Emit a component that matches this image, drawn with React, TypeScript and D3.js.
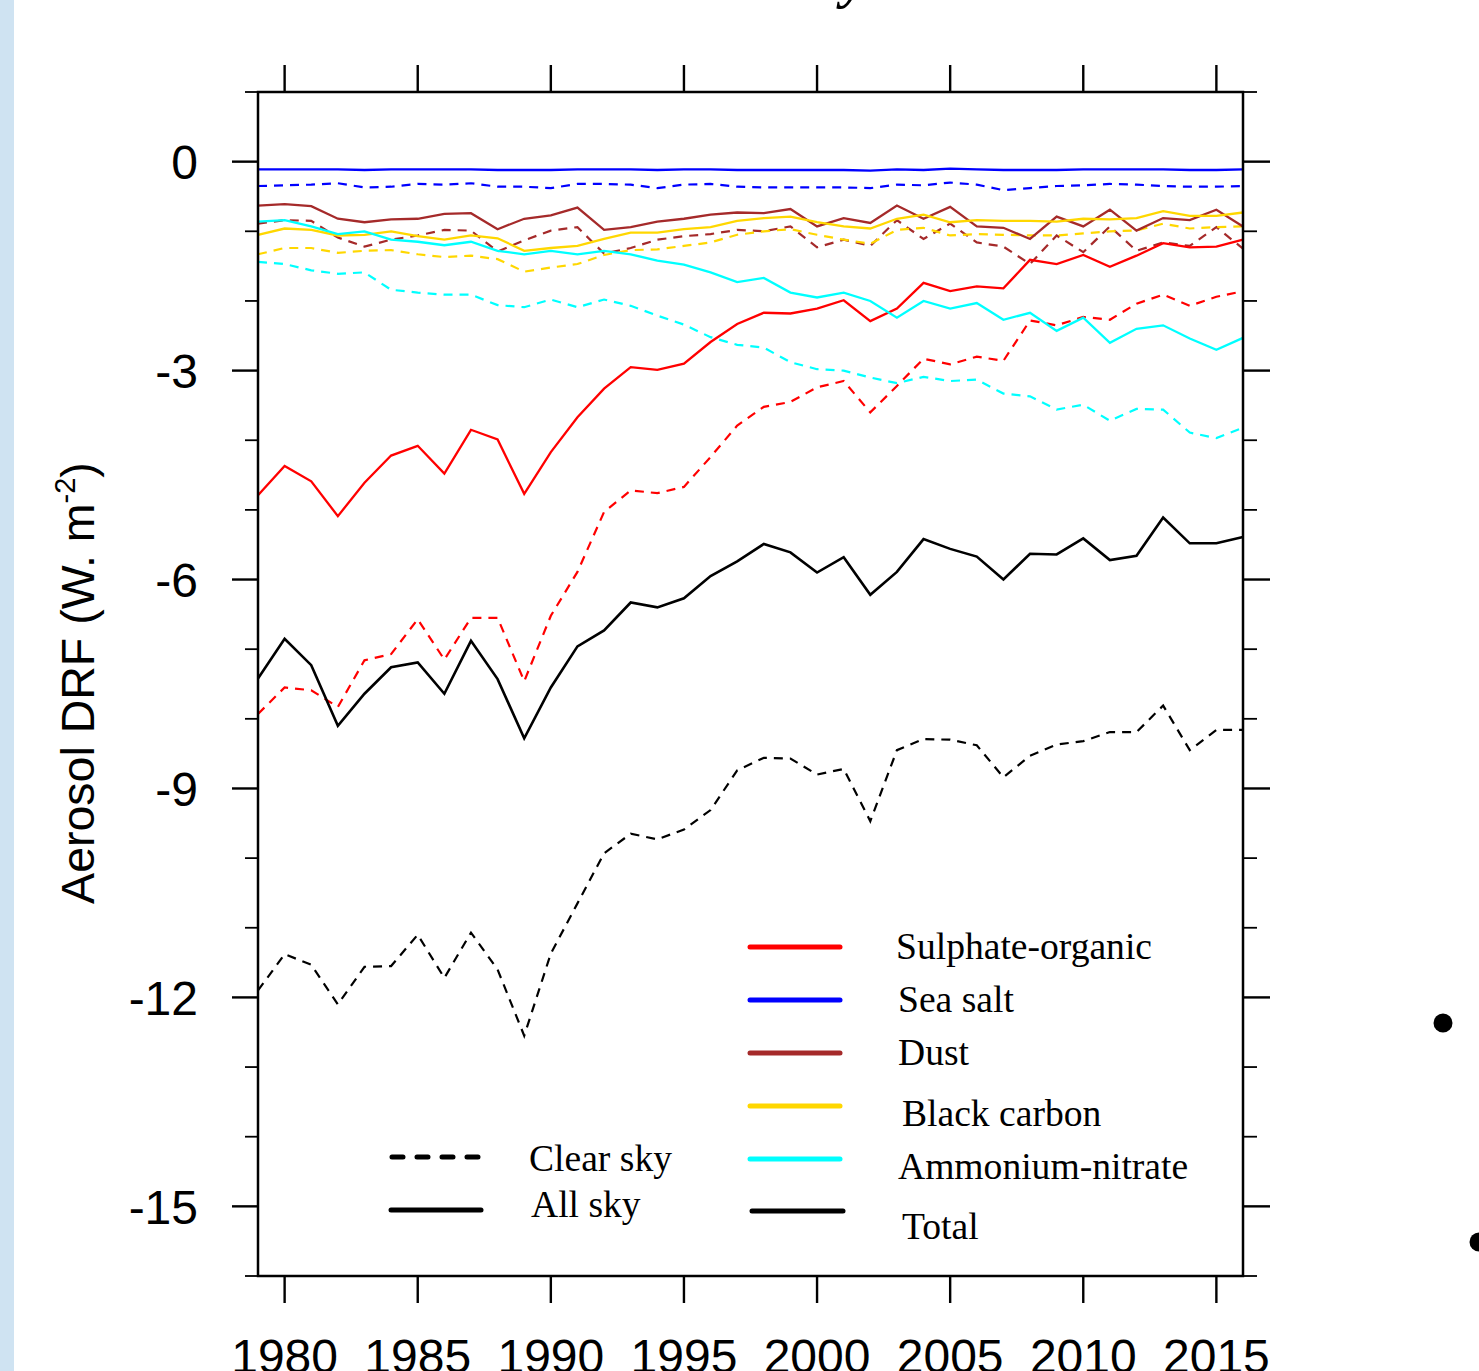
import React, { useEffect } from "react";
import * as d3 from "d3";

// ---------- data ----------
const years: number[] = d3.range(1979, 2017);

const sulphateAll = [-4.79, -4.37, -4.59, -5.09, -4.61, -4.22, -4.08, -4.48, -3.85, -3.99, -4.77, -4.17, -3.67, -3.26, -2.95, -2.99, -2.9, -2.59, -2.33, -2.17, -2.18, -2.11, -1.99, -2.29, -2.11, -1.74, -1.86, -1.79, -1.82, -1.41, -1.47, -1.34, -1.51, -1.35, -1.17, -1.23, -1.22, -1.12];
const sulphateClear = [-7.93, -7.55, -7.59, -7.83, -7.16, -7.07, -6.57, -7.15, -6.55, -6.55, -7.46, -6.52, -5.89, -5.03, -4.72, -4.76, -4.67, -4.24, -3.79, -3.52, -3.45, -3.24, -3.15, -3.6, -3.22, -2.83, -2.91, -2.8, -2.86, -2.28, -2.35, -2.23, -2.27, -2.04, -1.91, -2.07, -1.94, -1.86];
const seaSaltAll = [-0.11, -0.11, -0.11, -0.11, -0.12, -0.11, -0.11, -0.11, -0.11, -0.12, -0.12, -0.12, -0.11, -0.11, -0.11, -0.12, -0.11, -0.11, -0.12, -0.12, -0.12, -0.12, -0.12, -0.13, -0.11, -0.12, -0.1, -0.11, -0.12, -0.12, -0.12, -0.11, -0.11, -0.11, -0.11, -0.12, -0.12, -0.11];
const seaSaltClear = [-0.35, -0.34, -0.33, -0.31, -0.37, -0.36, -0.32, -0.33, -0.31, -0.36, -0.36, -0.38, -0.32, -0.32, -0.33, -0.38, -0.33, -0.32, -0.36, -0.37, -0.37, -0.37, -0.37, -0.38, -0.33, -0.34, -0.3, -0.33, -0.41, -0.38, -0.35, -0.34, -0.32, -0.33, -0.35, -0.36, -0.36, -0.35];
const dustAll = [-0.63, -0.61, -0.64, -0.82, -0.87, -0.83, -0.82, -0.75, -0.74, -0.97, -0.82, -0.77, -0.66, -0.98, -0.94, -0.86, -0.82, -0.76, -0.73, -0.74, -0.68, -0.93, -0.81, -0.88, -0.63, -0.82, -0.65, -0.93, -0.95, -1.11, -0.79, -0.93, -0.69, -0.99, -0.81, -0.84, -0.69, -0.93];
const dustClear = [-0.89, -0.84, -0.85, -1.09, -1.22, -1.12, -1.06, -0.98, -0.99, -1.29, -1.13, -0.99, -0.94, -1.32, -1.24, -1.12, -1.07, -1.04, -0.98, -1.0, -0.93, -1.23, -1.12, -1.21, -0.84, -1.11, -0.89, -1.16, -1.22, -1.47, -1.06, -1.3, -0.93, -1.28, -1.16, -1.21, -0.94, -1.25];
const blackCarbonAll = [-1.05, -0.96, -0.98, -1.06, -1.05, -1.0, -1.07, -1.12, -1.06, -1.1, -1.28, -1.24, -1.21, -1.11, -1.02, -1.02, -0.97, -0.94, -0.85, -0.81, -0.79, -0.87, -0.93, -0.96, -0.82, -0.76, -0.87, -0.84, -0.85, -0.85, -0.86, -0.82, -0.83, -0.81, -0.71, -0.78, -0.78, -0.73];
const blackCarbonClear = [-1.33, -1.24, -1.24, -1.31, -1.28, -1.27, -1.33, -1.37, -1.35, -1.4, -1.58, -1.52, -1.47, -1.34, -1.27, -1.26, -1.21, -1.16, -1.05, -1.0, -0.97, -1.05, -1.12, -1.18, -0.98, -0.95, -1.06, -1.04, -1.05, -1.06, -1.06, -1.03, -1.0, -0.99, -0.89, -0.96, -0.94, -0.93];
const ammoniumAll = [-0.86, -0.84, -0.93, -1.04, -1.0, -1.12, -1.15, -1.2, -1.15, -1.28, -1.33, -1.28, -1.33, -1.28, -1.33, -1.42, -1.48, -1.59, -1.73, -1.67, -1.88, -1.95, -1.88, -2.0, -2.24, -2.0, -2.11, -2.03, -2.27, -2.17, -2.43, -2.24, -2.6, -2.4, -2.35, -2.54, -2.7, -2.53];
const ammoniumClear = [-1.44, -1.47, -1.56, -1.61, -1.59, -1.84, -1.88, -1.91, -1.91, -2.06, -2.09, -1.98, -2.09, -1.98, -2.07, -2.21, -2.34, -2.52, -2.63, -2.67, -2.88, -2.98, -3.0, -3.1, -3.18, -3.09, -3.15, -3.13, -3.33, -3.37, -3.56, -3.49, -3.72, -3.55, -3.56, -3.89, -3.97, -3.82];
const totalAll = [-7.42, -6.85, -7.23, -8.1, -7.64, -7.26, -7.19, -7.64, -6.88, -7.43, -8.28, -7.55, -6.96, -6.73, -6.33, -6.4, -6.27, -5.95, -5.74, -5.49, -5.61, -5.9, -5.68, -6.22, -5.89, -5.42, -5.56, -5.67, -6.0, -5.63, -5.64, -5.41, -5.72, -5.66, -5.11, -5.48, -5.48, -5.39];
const totalClear = [-11.9, -11.38, -11.53, -12.1, -11.56, -11.55, -11.1, -11.72, -11.07, -11.6, -12.55, -11.37, -10.65, -9.93, -9.65, -9.73, -9.59, -9.31, -8.74, -8.56, -8.57, -8.8, -8.72, -9.47, -8.45, -8.29, -8.3, -8.38, -8.84, -8.53, -8.37, -8.32, -8.19, -8.19, -7.81, -8.45, -8.16, -8.16];

const speciesNames = ["Sulphate-organic", "Sea salt", "Dust", "Black carbon", "Ammonium-nitrate", "Total"];
const speciesColors = ["#ff0000", "#0000ff", "#a52a2a", "#ffd700", "#00ffff", "#000000"];
const allSkySeries = [sulphateAll, seaSaltAll, dustAll, blackCarbonAll, ammoniumAll, totalAll];
const clearSkySeries = [sulphateClear, seaSaltClear, dustClear, blackCarbonClear, ammoniumClear, totalClear];

const xTickYears = [1980, 1985, 1990, 1995, 2000, 2005, 2010, 2015];
const yMajorTicks = [0, -3, -6, -9, -12, -15];
const yTickLabels = ["0", "-3", "-6", "-9", "-12", "-15"];
const yMinorTicks = d3.range(1, -17, -1).filter((v) => v % 3 !== 0);
const skyNames = ["Clear sky", "All sky"];

// ---------- layout ----------
const W = 1479;
const H = 1371;
const L = 258, R = 1243, T = 92, B = 1276;

const x = d3.scaleLinear().domain([1979, 2016]).range([L, R]);
const y = d3.scaleLinear().domain([1, -16]).range([T, B]);

const line = d3
  .line<number>()
  .x((_, i) => x(years[i]))
  .y((d) => y(d));

export default function App() {
  useEffect(() => {
    document.body.style.margin = "0";
    document.body.style.overflow = "hidden";
  }, []);

  const legendX1 = 750, legendX2 = 840;
  const legendLineY = [947, 1000, 1053, 1106, 1159, 1211];
  const legendTextX = [896, 898, 898, 902, 898, 902];
  const legendTextY = [959, 1012, 1065, 1126, 1179, 1239];

  return (
    <svg
      width={W}
      height={H}
      style={{ position: "absolute", left: 0, top: 0, background: "#fff", display: "block" }}
    >
      <rect x={0} y={0} width={W} height={H} fill="#ffffff" />
      <rect x={0} y={0} width={14} height={H} fill="#cfe3f2" />

      {/* cut-off title descender */}
      <text x={842} y={-3} fontFamily="Liberation Serif" fontWeight="bold" fontStyle="italic" fontSize={56} fill="#000">
        y
      </text>

      {/* bullets at right edge */}
      <circle cx={1443} cy={1023} r={9.5} fill="#000" />
      <circle cx={1479} cy={1242} r={9.5} fill="#000" />

      {/* data lines: clear sky dashed, all sky solid */}
      <g fill="none" strokeWidth={2.2} strokeLinejoin="miter">
        {clearSkySeries.map((s, i) => (
          <path key={"c" + i} d={line(s) || ""} stroke={speciesColors[i]} strokeDasharray="9,7" />
        ))}
        {allSkySeries.map((s, i) => (
          <path key={"a" + i} d={line(s) || ""} stroke={speciesColors[i]} strokeWidth={i === 5 ? 2.6 : 2.3} />
        ))}
      </g>

      {/* frame */}
      <rect x={L} y={T} width={R - L} height={B - T} fill="none" stroke="#000" strokeWidth={2.5} />

      {/* ticks */}
      <g stroke="#000">
        {yMajorTicks.map((v) => (
          <g key={"ym" + v}>
            <line x1={L - 26} x2={L} y1={y(v)} y2={y(v)} strokeWidth={2.4} />
            <line x1={R} x2={R + 27} y1={y(v)} y2={y(v)} strokeWidth={2.4} />
          </g>
        ))}
        {yMinorTicks.map((v) => (
          <g key={"yn" + v}>
            <line x1={L - 13} x2={L} y1={y(v)} y2={y(v)} strokeWidth={1.8} />
            <line x1={R} x2={R + 14} y1={y(v)} y2={y(v)} strokeWidth={1.8} />
          </g>
        ))}
        {xTickYears.map((yr) => (
          <g key={"xt" + yr}>
            <line x1={x(yr)} x2={x(yr)} y1={T - 27} y2={T} strokeWidth={2.4} />
            <line x1={x(yr)} x2={x(yr)} y1={B} y2={B + 27} strokeWidth={2.4} />
          </g>
        ))}
      </g>

      {/* tick labels */}
      <g fontFamily="Liberation Sans, Arial, sans-serif" fontSize={48} fill="#000">
        {yMajorTicks.map((v, i) => (
          <text key={"yl" + v} x={198} y={y(v)} dy="0.36em" textAnchor="end">
            {yTickLabels[i]}
          </text>
        ))}
        {xTickYears.map((yr) => (
          <text key={"xl" + yr} x={x(yr)} y={1373} textAnchor="middle">
            {yr}
          </text>
        ))}
      </g>

      {/* y axis title */}
      <text
        transform={`translate(94, 683) rotate(-90)`}
        textAnchor="middle"
        fontFamily="Liberation Sans, Arial, sans-serif"
        fontSize={46.5}
        fill="#000"
      >
        Aerosol DRF (W. m
        <tspan fontSize={29} dy={-19}>-2</tspan>
        <tspan dy={19}>)</tspan>
      </text>

      {/* species legend */}
      <g fontFamily="Liberation Serif, Times New Roman, serif" fontSize={37.6} fill="#000">
        {speciesNames.map((n, i) => (
          <g key={"lg" + n}>
            <line
              x1={legendX1 + (i === 5 ? 2 : 0)}
              x2={legendX2 + (i === 5 ? 3 : 0)}
              y1={legendLineY[i]}
              y2={legendLineY[i]}
              stroke={speciesColors[i]}
              strokeWidth={5}
              strokeLinecap="round"
            />
            <text x={legendTextX[i]} y={legendTextY[i]}>
              {n}
            </text>
          </g>
        ))}
      </g>

      {/* sky legend */}
      <g fontFamily="Liberation Serif, Times New Roman, serif" fontSize={37.6} fill="#000">
        <line x1={392} x2={482} y1={1157} y2={1157} stroke="#000" strokeWidth={5} strokeDasharray="11,14" strokeLinecap="round" />
        <text x={529} y={1171}>{skyNames[0]}</text>
        <line x1={391} x2={481} y1={1210} y2={1210} stroke="#000" strokeWidth={5} strokeLinecap="round" />
        <text x={531} y={1217}>{skyNames[1]}</text>
      </g>
    </svg>
  );
}
